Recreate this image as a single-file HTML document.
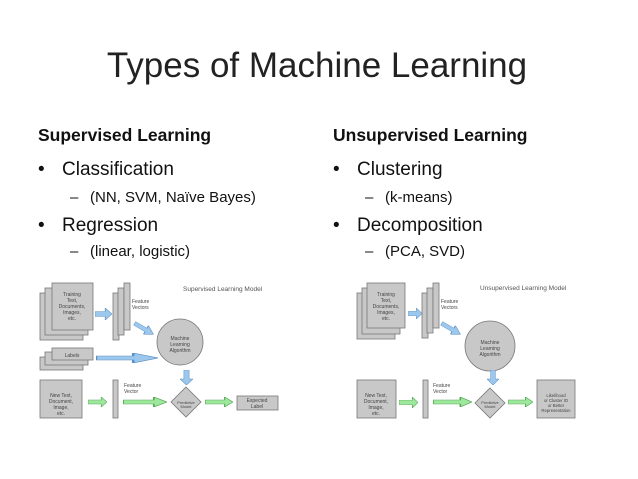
<!DOCTYPE html>
<html><head><meta charset="utf-8"><style>
html,body{margin:0;padding:0;background:#fff;}
svg{display:block;}
text{font-family:"Liberation Sans",sans-serif;}
</style></head><body>
<svg width="638" height="479" viewBox="0 0 638 479" xmlns="http://www.w3.org/2000/svg">
<defs>
<symbol id="ba" viewBox="0 0 10 10" preserveAspectRatio="none"><polygon points="0,3 6,3 6,0 10,5 6,10 6,7 0,7" fill="#9cc8ee" stroke="#5b8fc0" stroke-width="0.4"/></symbol>
<symbol id="ga" viewBox="0 0 10 10" preserveAspectRatio="none"><polygon points="0,3 7,3 7,0 10,5 7,10 7,7 0,7" fill="#9ee89e" stroke="#5aa85a" stroke-width="0.4"/></symbol>
</defs>
<text x="317" y="77" font-size="35" text-anchor="middle" fill="#222">Types of Machine Learning</text>
<g fill="#111">
<text x="38" y="141" font-size="17.5" font-weight="bold">Supervised Learning</text>
<text x="38" y="175" font-size="19">•</text><text x="62" y="175" font-size="19">Classification</text>
<text x="70" y="202" font-size="15">–</text><text x="90" y="202" font-size="15">(NN, SVM, Naïve Bayes)</text>
<text x="38" y="231" font-size="19">•</text><text x="62" y="231" font-size="19">Regression</text>
<text x="70" y="256" font-size="15">–</text><text x="90" y="256" font-size="15">(linear, logistic)</text>
<text x="333" y="141" font-size="17.5" font-weight="bold">Unsupervised Learning</text>
<text x="333" y="175" font-size="19">•</text><text x="357" y="175" font-size="19">Clustering</text>
<text x="365" y="202" font-size="15">–</text><text x="385" y="202" font-size="15">(k-means)</text>
<text x="333" y="231" font-size="19">•</text><text x="357" y="231" font-size="19">Decomposition</text>
<text x="365" y="256" font-size="15">–</text><text x="385" y="256" font-size="15">(PCA, SVD)</text>
</g>
<g fill="#c8c8c8" stroke="#777" stroke-width="0.8">
<rect x="40" y="293" width="43" height="47"/><rect x="45" y="288" width="43" height="47"/><rect x="52" y="283" width="41" height="47"/>
<rect x="113" y="293" width="6" height="47"/><rect x="118" y="288" width="6" height="47"/><rect x="124" y="283" width="6" height="47"/>
<circle cx="180" cy="342" r="23"/>
<rect x="40" y="357" width="43" height="13"/><rect x="45" y="352" width="43" height="13"/><rect x="52" y="348" width="41" height="12"/>
<rect x="40" y="380" width="42" height="38"/>
<rect x="113" y="380" width="5" height="38"/>
<polygon points="186,387 201,402 186,417 171,402"/>
<rect x="237" y="396" width="41" height="14"/>
<rect x="357" y="293" width="38" height="46"/><rect x="362" y="288" width="38" height="46"/><rect x="367" y="283" width="38" height="45"/>
<rect x="422" y="293" width="6" height="45"/><rect x="427" y="288" width="6" height="45"/><rect x="433" y="283" width="6" height="45"/>
<circle cx="490" cy="346" r="25"/>
<rect x="357" y="380" width="39" height="38"/>
<rect x="423" y="380" width="5" height="38"/>
<polygon points="490,388 505,403 490,418 475,403"/>
<rect x="537" y="380" width="38" height="38"/>
</g>
<use href="#ba" x="95" y="308" width="17" height="12"/>
<use href="#ba" x="0" y="0" width="22" height="10" transform="translate(137,319) rotate(30)"/>
<use href="#ba" x="96" y="353" width="62" height="10"/>
<use href="#ba" x="0" y="0" width="15" height="13" transform="translate(180,370) rotate(90) translate(0,-13)"/>
<use href="#ga" x="88" y="397" width="19" height="10"/>
<use href="#ga" x="123" y="397" width="44" height="10"/>
<use href="#ga" x="205" y="397" width="28" height="10"/>
<use href="#ba" x="408" y="308" width="14" height="11"/>
<use href="#ba" x="0" y="0" width="22" height="10" transform="translate(444,319) rotate(30)"/>
<use href="#ba" x="0" y="0" width="15" height="12" transform="translate(487,370) rotate(90) translate(0,-12)"/>
<use href="#ga" x="399" y="397" width="19" height="11"/>
<use href="#ga" x="433" y="397" width="39" height="10"/>
<use href="#ga" x="508" y="397" width="25" height="10"/>
<g font-size="5" fill="#444" text-anchor="middle">
<text x="72" y="296">Training</text><text x="72" y="302">Text,</text><text x="72" y="308">Documents,</text><text x="72" y="314">Images,</text><text x="72" y="320">etc.</text>
<text x="180" y="340">Machine</text><text x="180" y="346">Learning</text><text x="180" y="352">Algorithm</text>
<text x="72" y="357">Labels</text>
<text x="61" y="397">New Text,</text><text x="61" y="403">Document,</text><text x="61" y="409">Image,</text><text x="61" y="415">etc.</text>
<text x="186" y="404" font-size="4">Predictive</text><text x="186" y="408" font-size="4">Model</text>
<text x="257" y="402">Expected</text><text x="257" y="408">Label</text>
<text x="386" y="296">Training</text><text x="386" y="302">Text,</text><text x="386" y="308">Documents,</text><text x="386" y="314">Images,</text><text x="386" y="320">etc.</text>
<text x="490" y="344">Machine</text><text x="490" y="350">Learning</text><text x="490" y="356">Algorithm</text>
<text x="376" y="397">New Text,</text><text x="376" y="403">Document,</text><text x="376" y="409">Image,</text><text x="376" y="415">etc.</text>
<text x="490" y="404" font-size="4">Predictive</text><text x="490" y="408" font-size="4">Model</text>
<text x="556" y="397" font-size="4.3">Likelihood</text><text x="556" y="402" font-size="4.3">or Cluster ID</text><text x="556" y="407" font-size="4.3">or Better</text><text x="556" y="412" font-size="4.3">Representation</text>
</g>
<g font-size="5" fill="#444">
<text x="132" y="303">Feature</text><text x="132" y="309">Vectors</text>
<text x="124" y="387">Feature</text><text x="124" y="393">Vector</text>
<text x="441" y="303">Feature</text><text x="441" y="309">Vectors</text>
<text x="433" y="387">Feature</text><text x="433" y="393">Vector</text>
<text x="183" y="291" font-size="6.5" fill="#555">Supervised Learning Model</text>
<text x="480" y="290" font-size="6.5" fill="#555">Unsupervised Learning Model</text>
</g>
</svg>
</body></html>
